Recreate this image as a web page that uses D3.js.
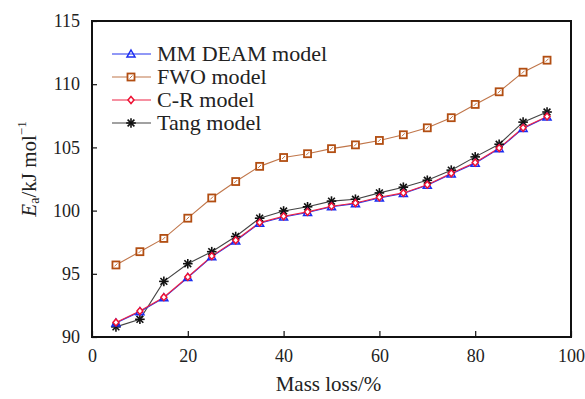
<!DOCTYPE html>
<html><head><meta charset="utf-8">
<script src="https://cdn.jsdelivr.net/npm/d3@7"></script>
<style>body{margin:0;background:#fff}svg{display:block}</style>
</head><body><svg id="c" width="585" height="399"></svg>
<script>
const massLoss = [5,10,15,20,25,30,35,40,45,50,55,60,65,70,75,80,85,90,95];
const mmDeam = [91.1,92.0,93.1,94.7,96.35,97.6,99.0,99.5,99.85,100.3,100.55,101.0,101.35,102.0,102.9,103.75,104.9,106.5,107.4];
const fwo    = [95.7,96.75,97.8,99.4,101.0,102.3,103.5,104.2,104.5,104.9,105.2,105.55,106.0,106.55,107.35,108.4,109.4,110.95,111.9];
const cr     = [91.15,92.05,93.15,94.75,96.4,97.65,99.05,99.55,99.9,100.35,100.6,101.05,101.4,102.05,102.95,103.8,104.95,106.55,107.45];
const tang   = [90.8,91.4,94.4,95.8,96.75,97.95,99.4,99.97,100.3,100.75,100.9,101.4,101.85,102.4,103.2,104.25,105.25,107.0,107.8];
const xTicks = [0,20,40,60,80,100];
const yTicks = [90,95,100,105,110,115];
const seriesNames = ["MM DEAM model","FWO model","C-R model","Tang model"];

const svg = d3.select("#c");
const L=92,R=571,T=21,B=337;
const x = d3.scaleLinear().domain([0,100]).range([L,R]);
const y = d3.scaleLinear().domain([90,115]).range([B,T]);
const FF = "'Liberation Serif'";

const series = [
 {name:seriesNames[1], vals:fwo, line:"#c0764a", mk:"#b24e12", type:"square"},
 {name:seriesNames[0], vals:mmDeam, line:"#2233ee", mk:"#1a2cf0", type:"triangle"},
 {name:seriesNames[2], vals:cr, line:"#ee2244", mk:"#ee1133", type:"diamond"},
 {name:seriesNames[3], vals:tang, line:"#444", mk:"#111", type:"star"}
];

function marker(g, type, col){
  if(type==="square"){
    g.append("rect").attr("x",-3.5).attr("y",-3.5).attr("width",7).attr("height",7).attr("fill","#fff").attr("stroke",col).attr("stroke-width",1.8);
    g.append("line").attr("x1",-1.5).attr("y1",1.5).attr("x2",1.5).attr("y2",-1.5).attr("stroke",col).attr("stroke-width",0.8);
  } else if(type==="triangle"){
    g.append("path").attr("d","M0,-4L4,3L-4,3Z").attr("fill","none").attr("stroke",col).attr("stroke-width",1.5);
  } else if(type==="diamond"){
    g.append("path").attr("d","M0,-3.5L3,0L0,3.5L-3,0Z").attr("fill","#fff").attr("stroke",col).attr("stroke-width",1.5);
  } else {
    const r=4.8;
    for(let a=0;a<180;a+=45){
      const rad=a*Math.PI/180;
      g.append("line").attr("x1",-r*Math.cos(rad)).attr("y1",-r*Math.sin(rad)).attr("x2",r*Math.cos(rad)).attr("y2",r*Math.sin(rad)).attr("stroke",col).attr("stroke-width",1.6);
    }
  }
}

const lineGen = d3.line().x((d,i)=>x(massLoss[i])).y(d=>y(d));
const order=[0,3,1,2];
order.forEach(k=>{
  const s=series[k];
  svg.append("path").datum(s.vals).attr("d",lineGen).attr("fill","none").attr("stroke",s.line).attr("stroke-width",1.1);
});
order.forEach(k=>{
  const s=series[k];
  s.vals.forEach((v,i)=>{
    const g=svg.append("g").attr("transform",`translate(${x(massLoss[i])},${y(v)})`);
    marker(g,s.type,s.mk);
  });
});

const xAxis = d3.axisBottom(x).tickValues(xTicks).tickSize(-6).tickPadding(12).tickFormat(d3.format("d"));
const gx = svg.append("g").attr("transform",`translate(0,${B})`).call(xAxis);
gx.select(".domain").remove();
gx.selectAll("line").attr("stroke","#111").attr("stroke-width",1.2);
gx.selectAll("text").style("font-family",FF).style("font-size","18px").attr("fill","#222");

const yAxis = d3.axisLeft(y).tickValues(yTicks).tickSize(-5).tickPadding(12).tickFormat(d3.format("d"));
const gy = svg.append("g").attr("transform",`translate(${L},0)`).call(yAxis);
gy.select(".domain").remove();
gy.selectAll("line").attr("stroke","#111").attr("stroke-width",1.2);
gy.selectAll("text").style("font-family",FF).style("font-size","18px").attr("fill","#222");

svg.append("rect").attr("x",L).attr("y",T).attr("width",R-L).attr("height",B-T).attr("fill","none").attr("stroke","#111").attr("stroke-width",2);

svg.append("text").attr("x",(L+R)/2-3).attr("y",391).attr("text-anchor","middle").style("font-family",FF).style("font-size","21px").attr("fill","#222").text("Mass loss/%");
const yt = svg.append("text").attr("transform","translate(36,169) rotate(-90)").attr("text-anchor","middle").style("font-family",FF).style("font-size","21px").attr("fill","#222");
yt.append("tspan").style("font-style","italic").text("E");
yt.append("tspan").style("font-size","14px").attr("dy",3).text("a");
yt.append("tspan").attr("dy",-3).text("/kJ mol");
yt.append("tspan").style("font-size","13px").attr("dy",-10).text("−1");

const legOrder=[1,0,2,3];
const legY=[54,77,100,123];
legOrder.forEach((k,j)=>{
  const s=series[k];
  svg.append("line").attr("x1",112).attr("x2",151).attr("y1",legY[j]).attr("y2",legY[j]).attr("stroke",s.line).attr("stroke-width",1.1);
  const g=svg.append("g").attr("transform",`translate(131,${legY[j]})`);
  marker(g,s.type,s.mk);
  svg.append("text").attr("transform",`translate(157,${legY[j]+7}) scale(1.07,1)`).style("font-family",FF).style("font-size","20.6px").attr("fill","#222").text(s.name);
});
</script></body></html>
